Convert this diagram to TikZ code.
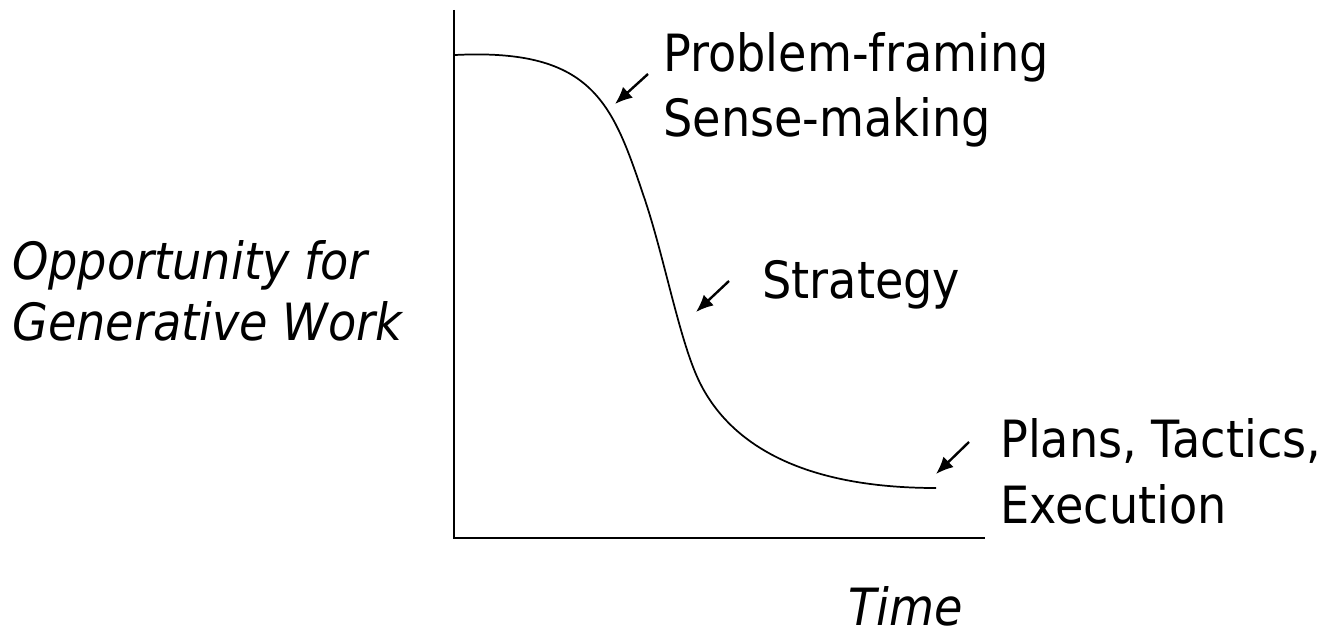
\documentclass[tikz,border=0pt]{standalone}
\usepackage{fontspec}
\setmainfont{DejaVu Sans}[FakeStretch=0.9]
\usetikzlibrary{arrows.meta}
\begin{document}
\begin{tikzpicture}[x=0.75pt,y=-0.75pt,
  lbl/.style={inner sep=0pt, anchor=base west, font=\fontsize{38.5}{48}\selectfont},
  ital/.style={inner sep=0pt, anchor=base west, font=\fontsize{38.5}{48}\selectfont\itshape},
  pointer/.style={-{Latex[length=13pt,width=11pt]}, line width=1.8pt},
  axisline/.style={line width=2pt},
  curveline/.style={line width=1.3pt}]
\useasboundingbox (0,0) rectangle (1331,635);
% axes
\coordinate (ytop) at (454,10);
\coordinate (orig) at (454,538);
\coordinate (xend) at (985,538);
\draw[axisline] (ytop) -- (orig) -- (xend);
% curve
\coordinate (c0) at (455,55);
\coordinate (c1) at (645,200);
\coordinate (c2) at (700,383);
\coordinate (c3) at (936,488);
\draw[curveline] (c0) .. controls (595,48) and (613,105) .. (c1)
  .. controls (665,260) and (680,343) .. (c2)
  .. controls (730,443) and (800,488) .. (c3);
% labels
\node[lbl] (pf1) at (663,72) {Problem-framing};
\node[lbl] (pf2) at (663,137) {Sense-making};
\node[lbl] (strat) at (762,298) {Strategy};
\node[lbl] (pl1) at (1000,457) {Plans, Tactics,};
\node[lbl] (pl2) at (1000,523) {Execution};
\node[ital] (opp1) at (12,279) {Opportunity for};
\node[ital] (opp2) at (12,340) {Generative Work};
\node[ital, anchor=base] (time) at (906,625) {Time};
% pointers
\coordinate (a1s) at (648,74);  \coordinate (a1e) at (615,104);
\coordinate (a2s) at (729,281); \coordinate (a2e) at (696,312);
\coordinate (a3s) at (969,442); \coordinate (a3e) at (936,474);
\draw[pointer] (a1s) -- (a1e);
\draw[pointer] (a2s) -- (a2e);
\draw[pointer] (a3s) -- (a3e);
\end{tikzpicture}
\end{document}
